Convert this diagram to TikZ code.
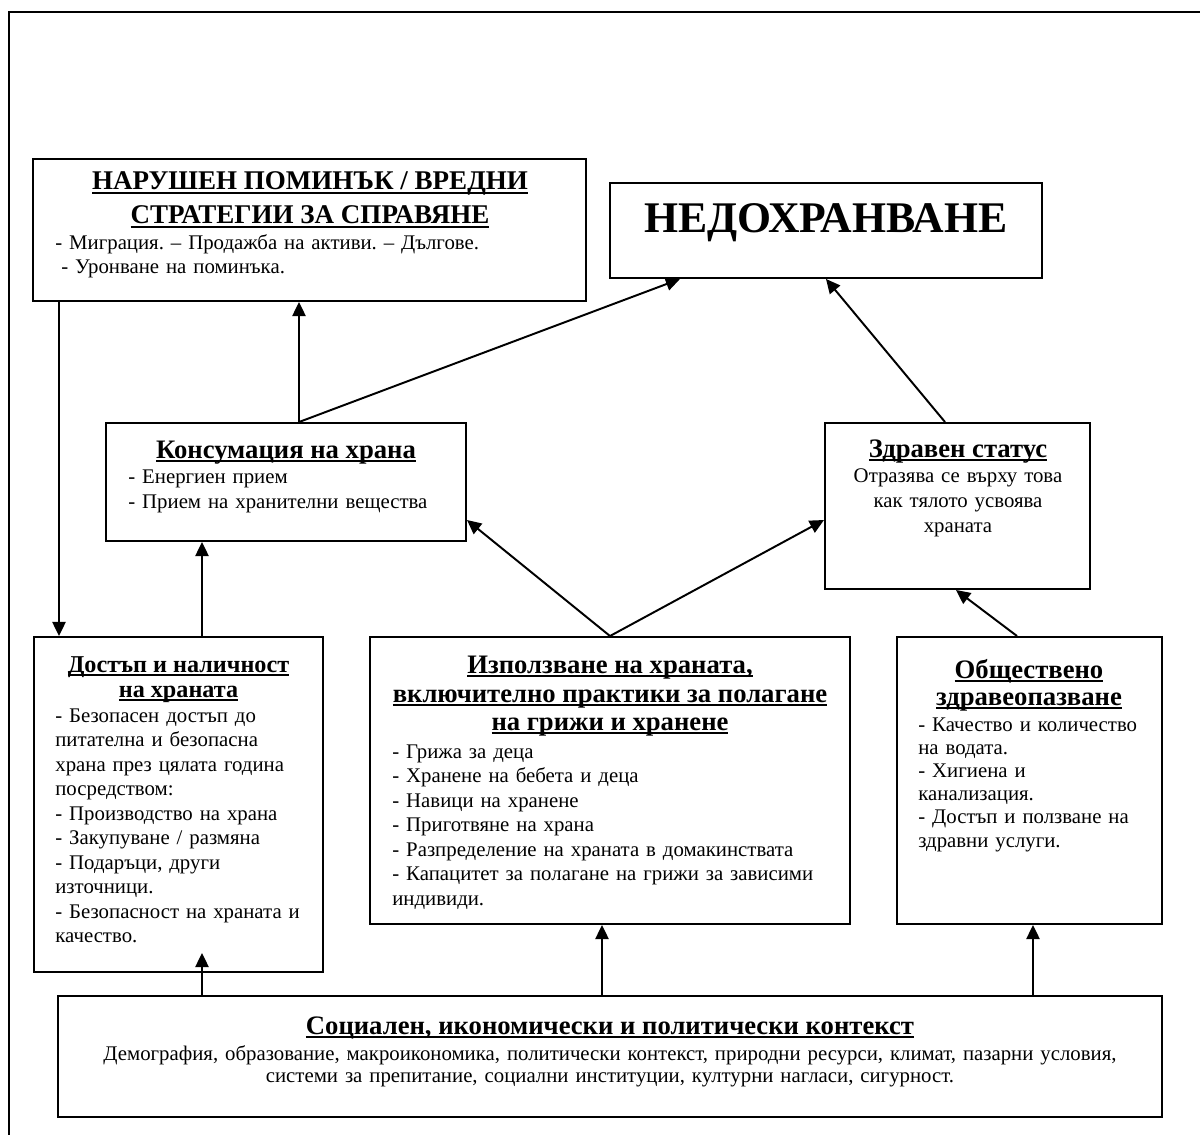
\documentclass[tikz,border=0pt]{standalone}
\usepackage{fontspec}
\setmainfont{Liberation Serif}
\usetikzlibrary{arrows.meta,fit,calc}
\newsavebox\ulbox
\newcommand\myul[1]{\sbox\ulbox{#1}\rlap{\rule[-2pt]{\wd\ulbox}{1.1pt}}\usebox\ulbox}
\frenchspacing
\begin{document}
\begin{tikzpicture}[x=0.5625pt,y=-0.5625pt,
  box/.style={draw,line width=1.1pt,inner sep=0pt},
  ttl/.style={font=\fontsize{15pt}{17pt}\selectfont\bfseries,inner sep=0pt,anchor=base},
  bodyl/.style={font=\fontsize{11.7pt}{#1}\selectfont,inner sep=0pt,anchor=base west,align=left,text width=300pt},
  bodyc/.style={font=\fontsize{11.7pt}{#1}\selectfont,inner sep=0pt,anchor=base,align=center,text width=640pt},
  arr/.style={line width=1.1pt,-{Triangle[length=8pt,width=7.5pt]}},
  frame/.style={line width=0.85pt}]

\useasboundingbox (0,0) rectangle (1200,1135);
\draw[frame] (1200,12) -- (9,12) -- (9,1135);

% boxes
\node[box,fit={(33,159) (586,301)}] (harm) {};
\node[box,fit={(610,183) (1042,278)}] (malnut) {};
\node[box,fit={(106,423) (466,541)}] (cons) {};
\node[box,fit={(825,423) (1090,589)}] (health) {};
\node[box,fit={(34,637) (323,972)}] (access) {};
\node[box,fit={(370,637) (850,924)}] (use) {};
\node[box,fit={(897,637) (1162,924)}] (public) {};
\node[box,fit={(58,996) (1162,1117)}] (social) {};

% texts
\node[font=\fontsize{15.2pt}{19pt}\selectfont\bfseries,inner sep=0pt,anchor=base] (harmt1) at (310,190) {\myul{НАРУШЕН ПОМИНЪК / ВРЕДНИ}};
\node[font=\fontsize{15.2pt}{19pt}\selectfont\bfseries,inner sep=0pt,anchor=base] (harmt2) at (310,224) {\myul{СТРАТЕГИИ ЗА СПРАВЯНЕ}};
\node[bodyl=13.5pt] (harmb1) at (55,250) {- Миграция. – Продажба на активи. – Дългове.};
\node[bodyl=13.5pt] (harmb2) at (61,274) {- Уронване на поминъка.};

\node[font=\fontsize{24.6pt}{28pt}\selectfont\bfseries,inner sep=0pt,anchor=base] (malt) at (826,233) {НЕДОХРАНВАНЕ};

\node[ttl] (const) at (286,458) {\myul{Консумация на храна}};
\node[bodyl=14.1pt] (consb) at (128,483) {- Енергиен прием\\- Прием на хранителни вещества};

\node[ttl] (healtht) at (958,457) {\myul{Здравен статус}};
\node[bodyc=14.1pt,text width=140pt] (healthb) at (958,482) {Отразява се върху това\\как тялото усвоява\\храната};

\node[ttl,font=\fontsize{13.6pt}{16pt}\selectfont\bfseries] (accesst1) at (178.5,672) {\myul{Достъп и наличност}};
\node[ttl,font=\fontsize{13.6pt}{16pt}\selectfont\bfseries] (accesst2) at (178.5,697) {\myul{на храната}};
\node[bodyl=13.8pt] (accessb) at (55,722) {- Безопасен достъп до\\питателна и безопасна\\храна през цялата година\\посредством:\\- Производство на храна\\- Закупуване / размяна\\- Подаръци, други\\източници.\\- Безопасност на храната и\\качество.};

\node[ttl] (uset1) at (610,673) {\myul{Използване на храната,}};
\node[ttl] (uset2) at (610,702) {\myul{включително практики за полагане}};
\node[ttl] (uset3) at (610,730) {\myul{на грижи и хранене}};
\node[bodyl=13.8pt] (useb) at (392,758) {- Грижа за деца\\- Хранене на бебета и деца\\- Навици на хранене\\- Приготвяне на храна\\- Разпределение на храната в домакинствата\\- Капацитет за полагане на грижи за зависими\\индивиди.};

\node[ttl] (publict1) at (1029,678) {\myul{Обществено}};
\node[ttl] (publict2) at (1029,705) {\myul{здравеопазване}};
\node[bodyl=13.05pt] (publicb) at (918,731) {- Качество и количество\\на водата.\\- Хигиена и\\канализация.\\- Достъп и ползване на\\здравни услуги.};

\node[ttl] (socialt) at (610,1034) {\myul{Социален, икономически и политически контекст}};
\node[bodyc=12.9pt] (socialb) at (610,1060) {Демография, образование, макроикономика, политически контекст, природни ресурси, климат, пазарни условия,\\системи за препитание, социални институции, културни нагласи, сигурност.};

% connectors
\draw[arr] (harm.south -| 59,0) -- (access.north -| 59,0);
\draw[arr] (cons.north -| 299,0) -- (harm.south -| 299,0);
\draw[arr] (cons.north -| 299,0) -- (malnut.south -| 680,0);
\draw[arr] (health.north -| 945,0) -- (malnut.south -| 826,0);
\draw[arr] (access.north -| 202,0) -- (cons.south -| 202,0);
\draw[arr] (use.north) -- (cons.east |- 0,520);
\draw[arr] (use.north) -- (health.west |- 0,520);
\draw[arr] (public.north -| 1017,0) -- (health.south -| 956,0);
\draw[arr] (social.north -| 202,0) -- ($(access.south -| 202,0)+(0,-20)$);
\draw[arr] (social.north -| 602,0) -- (use.south -| 602,0);
\draw[arr] (social.north -| 1033,0) -- (public.south -| 1033,0);
\end{tikzpicture}
\end{document}
